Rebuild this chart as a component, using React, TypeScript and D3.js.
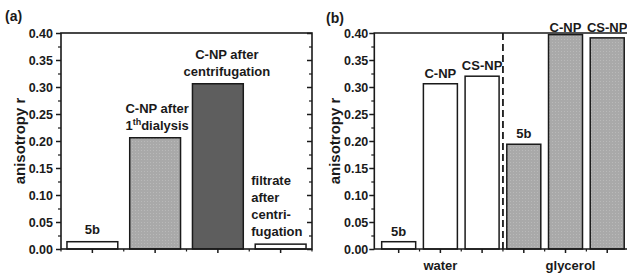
import React, { useEffect, useRef } from 'react';
import * as d3 from 'd3';

// panel (a): dye alone vs. C-NP purification steps
const aCategories = ['5b', 'C-NP after 1th dialysis', 'C-NP after centrifugation', 'filtrate after centrifugation'];
const aValues = [0.0135, 0.206, 0.306, 0.009];
const aLabels = [['5b'], ['C-NP after', '1^th^dialysis'], ['C-NP after', 'centrifugation'], ['filtrate', 'after', 'centri-', 'fugation']];

// panel (b): water vs. glycerol
const bCategories = ['water 5b', 'water C-NP', 'water CS-NP', 'glycerol 5b', 'glycerol C-NP', 'glycerol CS-NP'];
const bValues = [0.0135, 0.306, 0.32, 0.194, 0.397, 0.391];
const bLabels = ['5b', 'C-NP', 'CS-NP', '5b', 'C-NP', 'CS-NP'];
const bSolvents = ['water', 'water', 'water', 'glycerol', 'glycerol', 'glycerol'];

const yTicks = [0, 0.05, 0.1, 0.15, 0.2, 0.25, 0.3, 0.35, 0.4];
const yMinorTicks = [0.025, 0.075, 0.125, 0.175, 0.225, 0.275, 0.325, 0.375];
const yTitle = 'anisotropy r';

const W = 627;
const H = 273;
const FONT = '"Liberation Sans", Arial, sans-serif';
const INK = '#1a1a1a';

const App: React.FC = () => {
  const svgRef = useRef<SVGSVGElement>(null);

  useEffect(() => {
    if (!svgRef.current) return;
    const svg = d3.select(svgRef.current);
    svg.selectAll('*').remove();

    const defs = svg.append('defs');
    const pat = defs.append('pattern')
      .attr('id', 'dots')
      .attr('width', 3)
      .attr('height', 3)
      .attr('patternUnits', 'userSpaceOnUse');
    pat.append('rect').attr('width', 3).attr('height', 3).attr('fill', '#a9a9a9');
    pat.append('rect').attr('width', 1).attr('height', 1).attr('fill', '#b9b9b9');

    const y = d3.scaleLinear().domain([0, 0.4]).range([249, 33]);

    const boldText = (sel: d3.Selection<SVGTextElement, unknown, null, undefined>, size = 13) =>
      sel.attr('fill', INK)
        .style('font-family', FONT)
        .style('font-size', `${size}px`)
        .style('font-weight', 'bold');

    const yAxis = (g: d3.Selection<SVGGElement, unknown, null, undefined>, x0: number, labelX: number, pad: number) => {
      const major = g.append('g')
        .attr('transform', `translate(${x0},0)`)
        .call(d3.axisLeft(y).tickValues(yTicks).tickSize(5).tickPadding(pad).tickFormat(d3.format('.2f')));
      major.select('.domain').remove();
      major.selectAll('line').attr('stroke', INK).attr('stroke-width', 1.5);
      major.selectAll('text')
        .attr('fill', INK)
        .style('font-family', FONT)
        .style('font-size', '12.5px')
        .style('font-weight', 'bold');
      const minor = g.append('g')
        .attr('transform', `translate(${x0},0)`)
        .call(d3.axisLeft(y).tickValues(yMinorTicks).tickSize(3).tickFormat(() => ''));
      minor.select('.domain').remove();
      minor.selectAll('line').attr('stroke', INK).attr('stroke-width', 1.2);

      boldText(g.append('text')
        .attr('transform', `translate(${labelX},${(y(0) + y(0.4)) / 2}) rotate(-90)`)
        .attr('text-anchor', 'middle'), 15)
        .text(yTitle);
    };

    // ---------- panel (a) ----------
    const ga = svg.append('g');
    const xa = d3.scaleBand<string>()
      .domain(aCategories)
      .range([61, 312])
      .paddingInner(0.19)
      .paddingOuter(0.095);

    const aFills = ['#ffffff', 'url(#dots)', '#5e5e5e', '#ffffff'];
    ga.selectAll('rect.bar')
      .data(aCategories)
      .join('rect')
      .attr('class', 'bar')
      .attr('x', d => xa(d)!)
      .attr('width', xa.bandwidth())
      .attr('y', (d, i) => y(aValues[i]))
      .attr('height', (d, i) => y(0) - y(aValues[i]))
      .attr('fill', (d, i) => aFills[i])
      .attr('stroke', INK)
      .attr('stroke-width', 1.5);

    // frame
    ga.append('rect')
      .attr('x', 61).attr('y', 33)
      .attr('width', 312 - 61).attr('height', 249 - 33)
      .attr('fill', 'none').attr('stroke', INK).attr('stroke-width', 1.6);

    yAxis(ga, 61, 25, 3);

    // right mirrored ticks (inward)
    const ra = ga.append('g').attr('transform', 'translate(312,0)')
      .call(d3.axisLeft(y).tickValues(yTicks).tickSize(5).tickFormat(() => ''));
    ra.select('.domain').remove();
    ra.selectAll('line').attr('stroke', INK).attr('stroke-width', 1.5);
    const ram = ga.append('g').attr('transform', 'translate(312,0)')
      .call(d3.axisLeft(y).tickValues(yMinorTicks).tickSize(3).tickFormat(() => ''));
    ram.select('.domain').remove();
    ram.selectAll('line').attr('stroke', INK).attr('stroke-width', 1.2);

    // bottom ticks
    const ba = ga.append('g').attr('transform', 'translate(0,249)')
      .call(d3.axisBottom(xa).tickSize(4).tickFormat(() => ''));
    ba.select('.domain').remove();
    ba.selectAll('line').attr('stroke', INK).attr('stroke-width', 1.5);
    const stepA = xa.step();
    ga.selectAll('line.minorx')
      .data(d3.range(aCategories.length + 1))
      .join('line')
      .attr('class', 'minorx')
      .attr('x1', k => 61 + k * stepA)
      .attr('x2', k => 61 + k * stepA)
      .attr('y1', 249).attr('y2', 251.5)
      .attr('stroke', INK).attr('stroke-width', 1.2);

    // bar labels (a)
    const lineH = 17;
    aCategories.forEach((c, i) => {
      const lines = aLabels[i];
      const top = y(aValues[i]);
      const last = top - 8;
      const center = xa(c)! + xa.bandwidth() / 2;
      const leftAlign = lines.length > 2;
      const dx = i === 2 ? 9 : i === 1 ? 2 : 0;
      lines.forEach((ln, j) => {
        const t = ga.append('text')
          .attr('x', leftAlign ? xa(c)! - 4 : center + dx)
          .attr('y', last - (lines.length - 1 - j) * lineH)
          .attr('text-anchor', leftAlign ? 'start' : 'middle');
        boldText(t);
        const parts = ln.split('^');
        if (parts.length === 3) {
          t.append('tspan').text(parts[0]);
          t.append('tspan').attr('dy', -5).style('font-size', '9px').text(parts[1]);
          t.append('tspan').attr('dy', 5).text(parts[2]);
        } else {
          t.text(ln);
        }
      });
    });

    boldText(ga.append('text').attr('x', 5).attr('y', 21), 14).text('(a)');

    // ---------- panel (b) ----------
    const gb = svg.append('g');
    const xb = d3.scaleBand<string>()
      .domain(bCategories)
      .range([374.3, 631.6])
      .paddingInner(0.185)
      .paddingOuter(0.177);

    gb.selectAll('rect.bar')
      .data(bCategories)
      .join('rect')
      .attr('class', 'bar')
      .attr('x', d => xb(d)!)
      .attr('width', xb.bandwidth())
      .attr('y', (d, i) => y(bValues[i]))
      .attr('height', (d, i) => y(0) - y(bValues[i]))
      .attr('fill', (d, i) => (bSolvents[i] === 'water' ? '#ffffff' : 'url(#dots)'))
      .attr('stroke', INK)
      .attr('stroke-width', 1.5);

    // axes lines: left, top, bottom (run off the page)
    gb.append('path')
      .attr('d', `M${W + 5},33H374.3V249H${W + 5}`)
      .attr('fill', 'none').attr('stroke', INK).attr('stroke-width', 1.6);

    yAxis(gb, 374.3, 340, 1);

    const bb = gb.append('g').attr('transform', 'translate(0,249)')
      .call(d3.axisBottom(xb).tickSize(4).tickFormat(() => ''));
    bb.select('.domain').remove();
    bb.selectAll('line').attr('stroke', INK).attr('stroke-width', 1.5);
    const stepB = xb.step();
    gb.selectAll('line.minorx')
      .data(d3.range(bCategories.length - 1))
      .join('line')
      .attr('class', 'minorx')
      .attr('x1', k => xb(bCategories[k])! + xb.bandwidth() / 2 + stepB / 2)
      .attr('x2', k => xb(bCategories[k])! + xb.bandwidth() / 2 + stepB / 2)
      .attr('y1', 249).attr('y2', 251.5)
      .attr('stroke', INK).attr('stroke-width', 1.2);

    // separator between solvents
    const sepX = (xb(bCategories[2])! + xb.bandwidth() + xb(bCategories[3])!) / 2;
    gb.append('line')
      .attr('x1', sepX).attr('x2', sepX)
      .attr('y1', 33).attr('y2', 249)
      .attr('stroke', INK).attr('stroke-width', 1.8)
      .attr('stroke-dasharray', '7,4');

    bCategories.forEach((c, i) => {
      const top = y(bValues[i]);
      boldText(gb.append('text')
        .attr('x', xb(c)! + xb.bandwidth() / 2)
        .attr('y', Math.max(top - 6, 32))
        .attr('text-anchor', 'middle'))
        .text(bLabels[i]);
    });

    // solvent group labels
    const solvents = Array.from(new Set(bSolvents));
    solvents.forEach(s => {
      const centers = bCategories
        .filter((c, i) => bSolvents[i] === s)
        .map(c => xb(c)! + xb.bandwidth() / 2);
      boldText(gb.append('text')
        .attr('x', d3.mean(centers)! + (s === 'glycerol' ? 5 : 0))
        .attr('y', 270)
        .attr('text-anchor', 'middle'))
        .text(s);
    });

    boldText(gb.append('text').attr('x', 326).attr('y', 23), 14).text('(b)');
  }, []);

  return (
    <svg
      ref={svgRef}
      width={W}
      height={H}
      style={{ position: 'absolute', left: 0, top: 0, background: '#fff' }}
    />
  );
};

export default App;
